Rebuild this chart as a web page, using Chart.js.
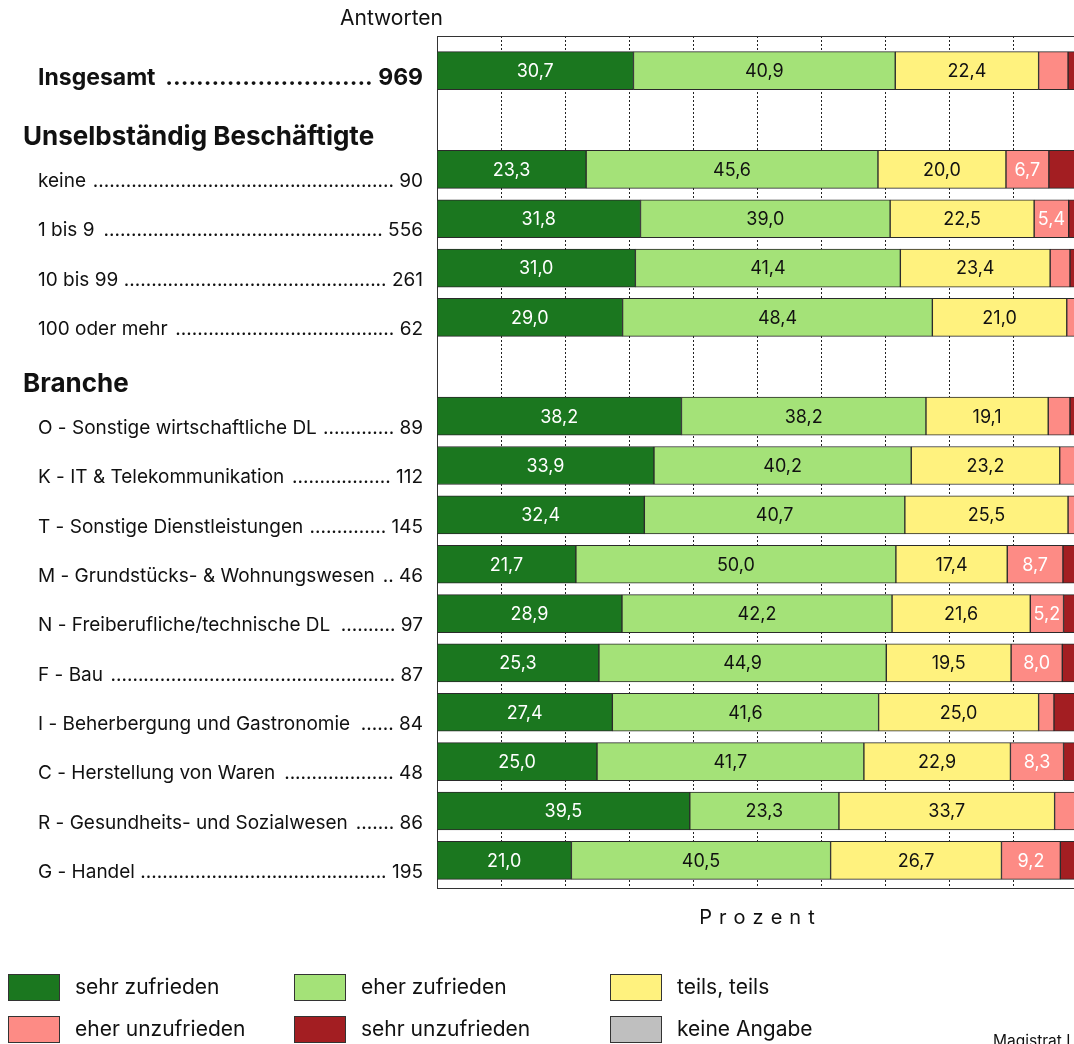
<!DOCTYPE html>
<html lang="de">
<head>
<meta charset="utf-8">
<title>Zufriedenheit</title>
<script src="https://cdn.jsdelivr.net/npm/chart.js@4"></script>
<style>
  html, body { margin: 0; padding: 0; background: #fff; overflow: hidden; }
  #wrap { position: absolute; left: 0; top: 0; width: 1120px; height: 1044px; }
</style>
</head>
<body>
<div id="wrap"><canvas id="chart" width="1120" height="1044"></canvas></div>
<script>
// rows of the chart (two of them are only group headers)
const categories = ['Insgesamt', 'Unselbständig Beschäftigte', 'keine', '1 bis 9', '10 bis 99', '100 oder mehr',
    'Branche', 'O - Sonstige wirtschaftliche DL', 'K - IT & Telekommunikation', 'T - Sonstige Dienstleistungen',
    'M - Grundstücks- & Wohnungswesen', 'N - Freiberufliche/technische DL', 'F - Bau',
    'I - Beherbergung und Gastronomie', 'C - Herstellung von Waren', 'R - Gesundheits- und Sozialwesen', 'G - Handel'];
const rowType = ['total', 'header', 'item', 'item', 'item', 'item', 'header', 'item', 'item', 'item',
    'item', 'item', 'item', 'item', 'item', 'item', 'item'];
const answers = [969, null, 90, 556, 261, 62, null, 89, 112, 145, 46, 97, 87, 84, 48, 86, 195];

// percentages per answer
const sehrZufrieden   = [30.7, null, 23.3, 31.8, 31.0, 29.0, null, 38.2, 33.9, 32.4, 21.7, 28.9, 25.3, 27.4, 25.0, 39.5, 21.0];
const eherZufrieden   = [40.9, null, 45.6, 39.0, 41.4, 48.4, null, 38.2, 40.2, 40.7, 50.0, 42.2, 44.9, 41.6, 41.7, 23.3, 40.5];
const teilsTeils      = [22.4, null, 20.0, 22.5, 23.4, 21.0, null, 19.1, 23.2, 25.5, 17.4, 21.6, 19.5, 25.0, 22.9, 33.7, 26.7];
const eherUnzufrieden = [4.6, null, 6.7, 5.4, 3.1, 1.6, null, 3.4, 2.7, 1.4, 8.7, 5.2, 8.0, 2.4, 8.3, 3.5, 9.2];
const sehrUnzufrieden = [1.4, null, 4.4, 1.3, 1.1, 0, null, 1.1, 0, 0, 2.2, 2.1, 2.3, 3.6, 2.1, 0, 2.6];
const keineAngabe     = [0, null, 0, 0, 0, 0, null, 0, 0, 0, 0, 0, 0, 0, 0, 0, 0];

const seriesNames = ['sehr zufrieden', 'eher zufrieden', 'teils, teils', 'eher unzufrieden', 'sehr unzufrieden', 'keine Angabe'];
const seriesData = [sehrZufrieden, eherZufrieden, teilsTeils, eherUnzufrieden, sehrUnzufrieden, keineAngabe];
const seriesColors = ['#1b771f', '#a4e278', '#fff27e', '#fd8b85', '#a31e22', '#bfbfbf'];
const labelColors = ['#fff', '#111', '#111', '#fff', '#fff', '#111'];

const gridTicks = [10, 20, 30, 40, 50, 60, 70, 80, 90];
const FONT = 'Inter, "Noto Sans", sans-serif';

const frameTop = 36, frameBottom = 888;   // frame around the plot

// frame + dotted grid behind the bars
const framePlugin = {
    id: 'frame',
    beforeDatasetsDraw(chart) {
        const ctx = chart.ctx, x = chart.scales.x;
        ctx.save();
        ctx.strokeStyle = '#222';
        ctx.lineWidth = 1;
        ctx.setLineDash([2, 2]);
        gridTicks.forEach(t => {
            const px = Math.round(x.getPixelForValue(t)) + 0.5;
            ctx.beginPath();
            ctx.moveTo(px, frameTop);
            ctx.lineTo(px, frameBottom);
            ctx.stroke();
        });
        ctx.setLineDash([]);
        ctx.strokeStyle = '#333';
        const l = Math.round(x.getPixelForValue(0)) + 0.5;
        const r = Math.round(x.getPixelForValue(100)) + 0.5;
        ctx.strokeRect(l, frameTop + 0.5, r - l, frameBottom - frameTop);
        ctx.restore();
    }
};

// values inside the segments
const valuePlugin = {
    id: 'values',
    afterDatasetsDraw(chart) {
        const ctx = chart.ctx;
        ctx.save();
        ctx.font = '18px ' + FONT;
        ctx.textAlign = 'center';
        ctx.textBaseline = 'middle';
        chart.data.datasets.forEach((ds, d) => {
            chart.getDatasetMeta(d).data.forEach((bar, i) => {
                const v = ds.data[i];
                if (v == null || v < 5) return;
                ctx.fillStyle = labelColors[d];
                ctx.fillText(v.toFixed(1).replace('.', ','), (bar.x + bar.base) / 2, bar.y + 1);
            });
        });
        ctx.restore();
    }
};

// row labels with dot leaders, headings, axis title and legend
const textPlugin = {
    id: 'texts',
    afterDraw(chart) {
        const ctx = chart.ctx, y = chart.scales.y, x = chart.scales.x;
        ctx.save();
        ctx.fillStyle = '#111';
        ctx.textBaseline = 'middle';

        ctx.font = '21px ' + FONT;
        ctx.textAlign = 'right';
        ctx.fillText('Antworten', 443, 19);

        categories.forEach((name, i) => {
            const yc = y.getPixelForValue(i);
            if (rowType[i] === 'header') {
                ctx.font = 'bold 26px ' + FONT;
                ctx.textAlign = 'left';
                ctx.fillText(name, 23, yc + 17);
                return;
            }
            const bold = rowType[i] === 'total';
            ctx.font = (bold ? 'bold 23px ' : '19px ') + FONT;
            const ty = yc + (bold ? 7 : 12);
            const left = 38, right = 423;
            const num = String(answers[i]);
            ctx.textAlign = 'left';
            ctx.fillText(name, left, ty);
            ctx.textAlign = 'right';
            ctx.fillText(num, right, ty);
            // dots between the name and the count
            const space = ctx.measureText(' ').width;
            const start = left + ctx.measureText(name).width + space;
            const end = right - ctx.measureText(num).width - space;
            const dotW = ctx.measureText('.').width;
            const n = Math.max(0, Math.floor((end - start) / dotW));
            ctx.textAlign = 'right';
            ctx.fillText('.'.repeat(n), end, ty);
        });

        // axis title, spaced letters
        ctx.font = '20px ' + FONT;
        ctx.textAlign = 'left';
        const title = 'Prozent', gap = 7;
        const widths = [...title].map(c => ctx.measureText(c).width);
        const total = widths.reduce((a, b) => a + b, 0) + gap * (title.length - 1);
        let cx = (x.getPixelForValue(0) + x.getPixelForValue(100)) / 2 - total / 2;
        [...title].forEach((c, k) => {
            ctx.fillText(c, cx, 918);
            cx += widths[k] + gap;
        });

        // legend
        const colX = [8, 294, 610], rowY = [974, 1016];
        ctx.font = '21px ' + FONT;
        seriesNames.forEach((name, k) => {
            const bx = colX[k % 3], by = rowY[Math.floor(k / 3)];
            ctx.fillStyle = seriesColors[k];
            ctx.fillRect(bx, by, 52, 27);
            ctx.strokeStyle = '#333';
            ctx.lineWidth = 1;
            ctx.strokeRect(bx + 0.5, by + 0.5, 51, 26);
            ctx.fillStyle = '#111';
            ctx.fillText(name, bx + 67, by + 14);
        });

        ctx.font = '15.5px ' + FONT;
        ctx.fillText('Magistrat Linz', 993, 1041);
        ctx.restore();
    }
};

new Chart(document.getElementById('chart'), {
    type: 'bar',
    data: {
        labels: categories,
        datasets: seriesData.map((data, k) => ({
            label: seriesNames[k],
            data: data,
            backgroundColor: seriesColors[k],
            borderColor: '#2a2a2a',
            borderWidth: 1,
            borderSkipped: false,
            barThickness: 38
        }))
    },
    options: {
        indexAxis: 'y',
        responsive: false,
        animation: false,
        layout: { padding: { left: 437, right: 43, top: 46, bottom: 159 } },
        scales: {
            x: { stacked: true, min: 0, max: 100, display: false },
            y: { stacked: true, display: false }
        },
        plugins: {
            legend: { display: false },
            tooltip: { enabled: false }
        }
    },
    plugins: [framePlugin, valuePlugin, textPlugin]
});
</script>
</body>
</html>
